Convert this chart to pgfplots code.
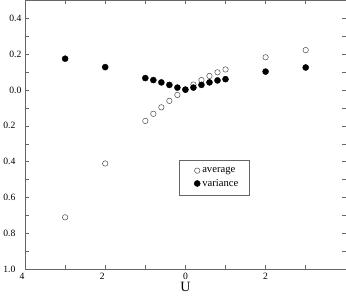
\documentclass[border=0pt]{standalone}
\usepackage{fontspec}
\setmainfont{Liberation Serif}
\usepackage{pgfplots}
\pgfplotsset{compat=1.18}
\begin{document}
\begin{tikzpicture}
\begin{axis}[
  width=317pt, height=266pt, scale only axis,
  xmin=-4, xmax=4, ymin=-1, ymax=0.5,
  axis line style={black!60},
  every tick/.style={black!60},
  tick align=inside,
  major tick length=4pt, minor tick length=4pt,
  /pgf/number format/assume math mode=true,
  xtick={-4,-2,0,2},
  xticklabels={\textrm{4}\kern6pt,\textrm{2}\kern6pt,\textrm{0},\textrm{2}},
  minor xtick={-3,-1,1,3},
  ytick={-1,-0.8,-0.6,-0.4,-0.2,0,0.2,0.4},
  yticklabels={\textrm{1.0}\kern6pt,\textrm{0.8}\kern6pt,\textrm{0.6}\kern6pt,\textrm{0.4}\kern6pt,\textrm{0.2}\kern6pt,\textrm{0.0},\textrm{0.2},\textrm{0.4}},
  minor ytick={-0.9,-0.7,-0.5,-0.3,-0.1,0.1,0.3},
  tick label style={font=\rmfamily\fontsize{9.5}{11}\selectfont},
  xlabel={U},
  xlabel style={font=\rmfamily\fontsize{14}{16}\selectfont, yshift=4pt},
  legend style={at={(axis cs:-0.17,-0.39)}, anchor=north west, draw=black!60,
    font=\rmfamily\fontsize{10.5}{12}\selectfont, inner xsep=9pt, inner ysep=5pt,
    row sep=1pt, cells={anchor=west}},
  legend image code/.code={\path (-9pt,0pt) (2pt,0pt); \draw[#1] plot coordinates {(0pt,0pt)};},
]
\addplot[only marks, mark=o, mark size=2.7pt, mark options={draw=black!70, line width=0.5pt}] coordinates {
(-3,-0.71) (-2,-0.41) (-1,-0.173) (-0.8,-0.133) (-0.6,-0.097) (-0.4,-0.061) (-0.2,-0.028)
(0,0.0) (0.2,0.030) (0.4,0.055) (0.6,0.078) (0.8,0.098) (1.0,0.114) (2,0.182) (3,0.222)
};
\addlegendentry{average}
\addplot[only marks, mark=*, mark size=3pt, mark options={draw=black, fill=black}] coordinates {
(-3,0.174) (-2,0.127) (-1,0.066) (-0.8,0.055) (-0.6,0.042) (-0.4,0.028) (-0.2,0.013)
(0,0.002) (0.2,0.013) (0.4,0.028) (0.6,0.042) (0.8,0.053) (1.0,0.060) (2,0.102) (3,0.125)
};
\addlegendentry{variance}
\end{axis}
\end{tikzpicture}
\end{document}
